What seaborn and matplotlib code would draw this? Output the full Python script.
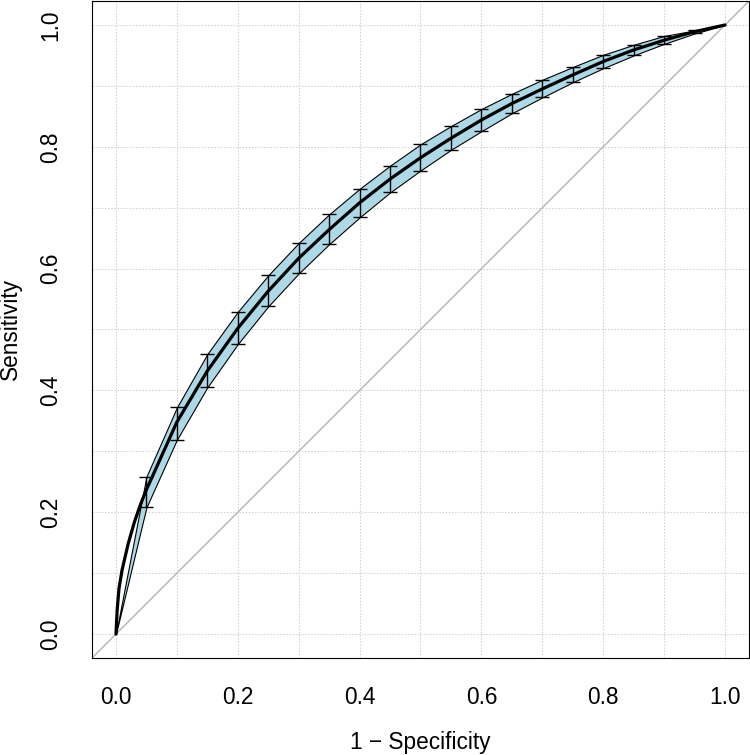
import matplotlib
matplotlib.use("Agg")
import matplotlib.pyplot as plt
import seaborn as sns
import numpy as np
import pandas as pd

# ---- data ----
curve_fpr = [0.0, 0.002, 0.005, 0.01, 0.02, 0.03, 0.04, 0.05, 0.10, 0.15, 0.20, 0.25, 0.30,
             0.35, 0.40, 0.45, 0.50, 0.55, 0.60, 0.65, 0.70, 0.75, 0.80, 0.85,
             0.90, 0.95, 1.0]
curve_tpr = [0.0, 0.04, 0.075, 0.105, 0.148, 0.183, 0.212, 0.237, 0.348, 0.432, 0.502, 0.563,
             0.617, 0.664, 0.708, 0.747, 0.782, 0.814, 0.844, 0.871, 0.895, 0.918,
             0.940, 0.959, 0.975, 0.989, 1.0]

ci_fpr = [0.05, 0.10, 0.15, 0.20, 0.25, 0.30, 0.35, 0.40, 0.45, 0.50,
          0.55, 0.60, 0.65, 0.70, 0.75, 0.80, 0.85, 0.90, 0.95]
ci_upper = [0.2585, 0.372, 0.4597, 0.529, 0.589, 0.642, 0.689, 0.731, 0.769, 0.804,
            0.834, 0.862, 0.887, 0.910, 0.931, 0.951, 0.9675, 0.982, 0.991]
ci_lower = [0.208, 0.319, 0.405, 0.476, 0.538, 0.592, 0.640, 0.684, 0.725, 0.761,
            0.795, 0.8255, 0.855, 0.881, 0.906, 0.929, 0.950, 0.969, 0.986]

tick_vals = [0.0, 0.2, 0.4, 0.6, 0.8, 1.0]
tick_labels = ["0.0", "0.2", "0.4", "0.6", "0.8", "1.0"]

# ---- style ----
sns.set_theme(style="white")
plt.rcParams['font.family'] = ['Liberation Sans', 'DejaVu Sans']
FS = 16.3

fig = plt.figure(figsize=(7.5, 7.55), dpi=100)
ax = fig.add_axes([91.6 / 750, (755 - 658.4) / 755, 657.8 / 750, 657.8 / 755])

ax.set_xlim(-0.04, 1.04)
ax.set_ylim(-0.04, 1.04)

# grid
for g in np.arange(0, 1.01, 0.1):
    ax.axvline(g, color="#D3D3D3", lw=0.75, ls=(0, (1.5, 1.5)), zorder=0)
    ax.axhline(g, color="#D3D3D3", lw=0.75, ls=(0, (1.5, 1.5)), zorder=0)

# diagonal
ax.plot([-0.04, 1.04], [-0.04, 1.04], color="#B4B4B4", lw=1.0, zorder=1)

# confidence band
band_x = [0.0] + ci_fpr + [1.0]
band_up = [0.0] + ci_upper + [1.0]
band_lo = [0.0] + ci_lower + [1.0]
ax.fill_between(band_x, band_lo, band_up, facecolor="#ADD8E6", edgecolor="black",
                lw=0.8, zorder=2)

# main curve
df = pd.DataFrame({"fpr": curve_fpr, "tpr": curve_tpr})
sns.lineplot(data=df, x="fpr", y="tpr", color="black", lw=2.3, sort=False,
             estimator=None, ax=ax, zorder=3)

# error bars
mid = [(u + l) / 2 for u, l in zip(ci_upper, ci_lower)]
yerr = [[m - l for m, l in zip(mid, ci_lower)], [u - m for m, u in zip(mid, ci_upper)]]
ax.errorbar(ci_fpr, mid, yerr=yerr, fmt="none", ecolor="black", elinewidth=1.0,
            capsize=5, capthick=1.0, zorder=4)

# axes styling
for s in ax.spines.values():
    s.set_color("black")
    s.set_linewidth(0.8)
    s.set_visible(True)

ax.set_xticks(tick_vals)
ax.set_xticklabels(tick_labels, fontsize=FS)
ax.set_yticks(tick_vals)
ax.set_yticklabels(tick_labels, fontsize=FS, rotation=90, va="center")
ax.tick_params(axis="both", direction="out", length=9, width=0.8, color="black",
               labelcolor="black")
ax.tick_params(axis="x", pad=11)
ax.tick_params(axis="y", pad=12)

ax.set_xlabel("1 − Specificity", fontsize=FS, color="black")
ax.set_ylabel("Sensitivity", fontsize=FS, color="black")
ax.xaxis.set_label_coords(0.5, -0.111)
ax.yaxis.set_label_coords(-0.106, 0.5)

fig.savefig("out.png", dpi=100, facecolor="white")
